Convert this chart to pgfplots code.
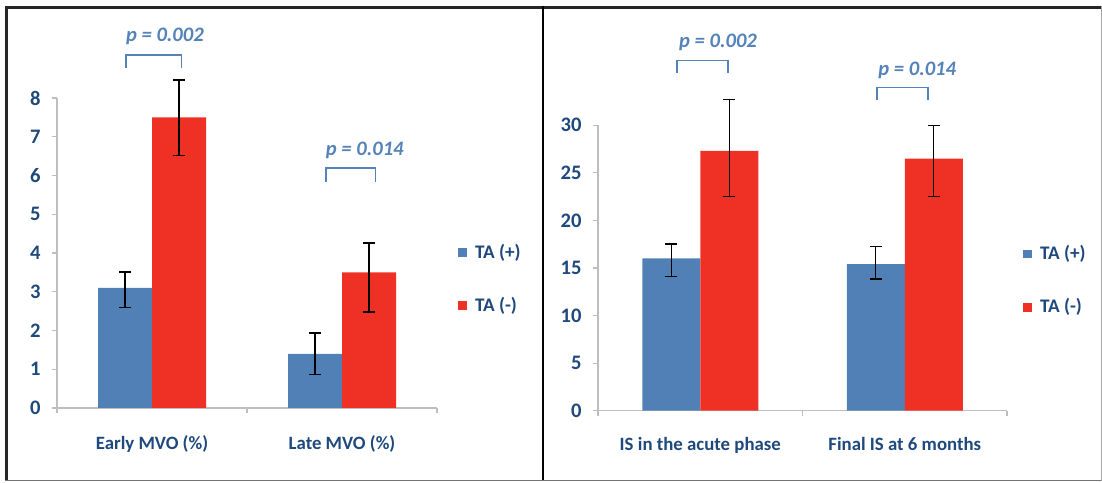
\documentclass[border=0pt]{standalone}
\usepackage{fontspec}
\setmainfont{Carlito}
\usepackage{pgfplots}
\pgfplotsset{compat=1.18}
\usepackage{pgfplotstable}

\definecolor{tablue}{RGB}{80,128,182}
\definecolor{tared}{RGB}{238,49,36}
\definecolor{lbl}{RGB}{31,73,125}
\definecolor{pcol}{RGB}{84,130,185}
\definecolor{axgray}{RGB}{190,190,190}

% left panel: MVO (%)
\pgfplotstableread{
x y ep em
0 3.1 0.41 0.50
1 1.4 0.54 0.54
}\leftplus
\pgfplotstableread{
x y ep em
0 7.5 0.96 0.98
1 3.5 0.76 1.02
}\leftminus
% right panel: infarct size
\pgfplotstableread{
x y ep em
0 16.0 1.52 1.92
1 15.4 1.85 1.54
}\rightplus
\pgfplotstableread{
x y ep em
0 27.3 5.40 4.80
1 26.5 3.47 3.97
}\rightminus

\pgfplotsset{
  panel/.style={
    scale only axis, anchor=south west, clip=false,
    axis x line*=bottom, axis y line*=left,
    axis line style={draw=axgray, line width=0.6pt},
    xmin=-0.5, xmax=1.5, ymin=0,
    xtick={0,1},
    minor xtick={-0.5,0.5,1.5},
    tick align=outside,
    major tick length=2.5pt, minor tick length=2.5pt,
    major x tick style={draw=none},
    minor x tick style={draw=axgray, line width=0.6pt},
    major y tick style={draw=axgray, line width=0.6pt},
    ybar=0pt,
    /pgf/number format/assume math mode=true,
    yticklabel style={font=\fontsize{10.3}{12}\selectfont\bfseries, text=lbl, anchor=east, inner sep=0pt, xshift=-5.5pt},
    xticklabel style={font=\fontsize{9.4}{11}\selectfont\bfseries, text=lbl, anchor=base, inner sep=0pt},
    legend cell align=left,
    legend style={draw=none, fill=none, inner sep=0pt, row sep=15pt,
      anchor=west,
      /tikz/every odd column/.append style={column sep=2.5pt},
      nodes={font=\fontsize{9.6}{11}\selectfont\bfseries, text=lbl, inner sep=1.5pt}},
  },
  bplus/.style={fill=tablue, draw=none,
    legend image code/.code={\fill[tablue] (0pt,-2.2pt) rectangle (4.4pt,2.2pt);}},
  bminus/.style={fill=tared, draw=none,
    legend image code/.code={\fill[tared] (0pt,-2.2pt) rectangle (4.4pt,2.2pt);}},
  ebars/.style={error bars/.cd, y dir=both, y explicit,
    error bar style={black, line width=0.7pt},
    error mark options={rotate=90, black, line width=0.7pt, mark size=3pt}},
}

\begin{document}
\begin{tikzpicture}
% panel frames
\draw[black!85, line width=1.5pt] (2.5pt,237.25pt) -- (551pt,237.25pt);
\draw[black!85, line width=1.5pt] (3.25pt,238pt) -- (3.25pt,0.5pt);
\draw[black, line width=1pt] (271.5pt,238pt) -- (271.5pt,0.5pt);
\draw[black!55, line width=0.75pt] (2.5pt,0.65pt) -- (551pt,0.65pt);
\draw[black!35, line width=0.5pt] (550.5pt,238pt) -- (550.5pt,0.5pt);

% left panel
\begin{axis}[panel,
  at={(28.5pt,37pt)}, width=190pt, height=155pt,
  bar width=27pt,
  ymax=8, ytick={0,1,...,8},
  xticklabels={Early MVO (\%), Late MVO (\%)},
  xticklabel style={yshift=-18.4pt},
  legend style={at={(1.055,0.416)}},
]
\addplot+[bplus, ebars] table[x=x, y=y, y error plus=ep, y error minus=em] {\leftplus};
\addlegendentry{TA (+)}
\addplot+[bminus, ebars] table[x=x, y=y, y error plus=ep, y error minus=em] {\leftminus};
\addlegendentry{TA (-)}
\draw[pcol, line width=0.8pt] (axis cs:-0.138,8.77) -- (axis cs:-0.138,9.11) -- (axis cs:0.156,9.11) -- (axis cs:0.156,8.77);
\node[text=pcol, font=\fontsize{10.3}{12}\selectfont\bfseries\itshape] at (axis cs:0.068,9.6) {p = 0.002};
\draw[pcol, line width=0.8pt] (axis cs:0.916,5.83) -- (axis cs:0.916,6.19) -- (axis cs:1.177,6.19) -- (axis cs:1.177,5.83);
\node[text=pcol, font=\fontsize{10.3}{12}\selectfont\bfseries\itshape] at (axis cs:1.12,6.66) {p = 0.014};
\end{axis}

% right panel
\begin{axis}[panel,
  at={(299pt,35.65pt)}, width=204.5pt, height=142.7pt,
  bar width=29pt,
  ymax=30, ytick={0,5,...,30},
  xticklabels={IS in the acute phase, Final IS at 6 months},
  xticklabel style={yshift=-17.5pt},
  legend style={at={(1.039,0.456)}},
]
\addplot+[bplus, ebars] table[x=x, y=y, y error plus=ep, y error minus=em] {\rightplus};
\addlegendentry{TA (+)}
\addplot+[bminus, ebars] table[x=x, y=y, y error plus=ep, y error minus=em] {\rightminus};
\addlegendentry{TA (-)}
\draw[pcol, line width=0.8pt] (axis cs:-0.115,35.5) -- (axis cs:-0.115,36.8) -- (axis cs:0.137,36.8) -- (axis cs:0.137,35.5);
\node[text=pcol, font=\fontsize{10.3}{12}\selectfont\bfseries\itshape] at (axis cs:0.087,38.7) {p = 0.002};
\draw[pcol, line width=0.8pt] (axis cs:0.863,32.7) -- (axis cs:0.863,33.96) -- (axis cs:1.115,33.96) -- (axis cs:1.115,32.7);
\node[text=pcol, font=\fontsize{10.3}{12}\selectfont\bfseries\itshape] at (axis cs:1.061,35.8) {p = 0.014};
\end{axis}

\pgfresetboundingbox
\path[use as bounding box] (0pt,0pt) rectangle (551pt,241pt);
\end{tikzpicture}
\end{document}
